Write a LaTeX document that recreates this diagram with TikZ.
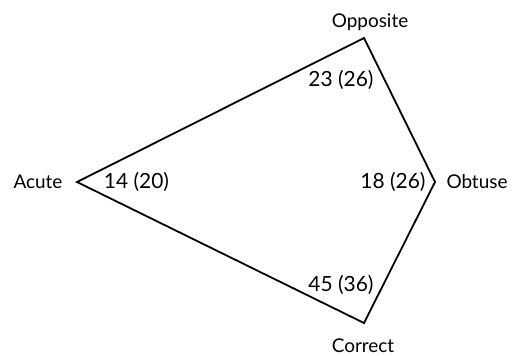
\documentclass[tikz,border=0pt]{standalone}
\usepackage{fontspec}
\setmainfont{Lato}
\begin{document}
\begin{tikzpicture}[x=1bp,y=-1bp,
  edge/.style={line width=1.8bp, line join=miter},
  lbl/.style={font=\fontsize{19}{21}\selectfont, inner sep=0pt, anchor=base},
  num/.style={font=\fontsize{21}{23}\selectfont, inner sep=0pt, anchor=base}]
\useasboundingbox (0,0) rectangle (512,355);
\coordinate (vA) at (77,182);
\coordinate (vO) at (364,38);
\coordinate (vB) at (435,182);
\coordinate (vC) at (364,323);
\draw[edge] (vA) -- (vO) -- (vB) -- (vC) -- cycle;
\node[lbl] (acute) at (38,188) {Acute};
\node[lbl] (opp) at (370,27) {Opposite};
\node[lbl] (obt) at (477,188) {Obtuse};
\node[lbl, text depth=0pt] (cor) at (363,352) {Correct};
\node[num] (nA) at (136.5,188) {14 (20)};
\node[num] (nO) at (341,86.5) {23 (26)};
\node[num] (nB) at (393,188) {18 (26)};
\node[num] (nC) at (341,291.5) {45 (36)};
\end{tikzpicture}
\end{document}
